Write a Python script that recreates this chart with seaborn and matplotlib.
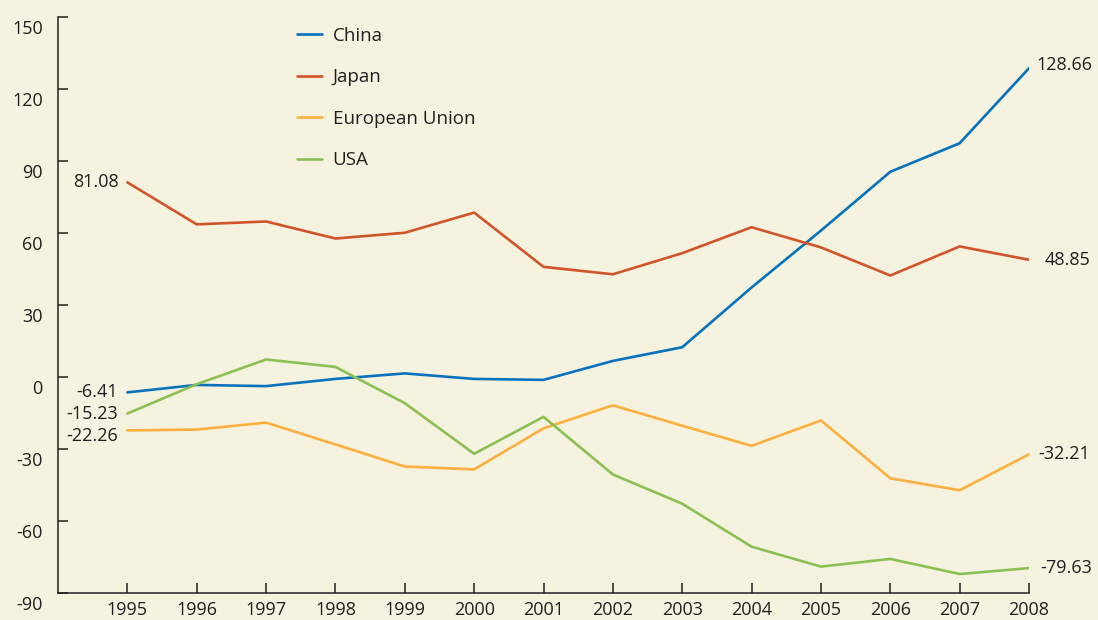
import pandas as pd
import matplotlib.pyplot as plt
import matplotlib.transforms as mtransforms
from matplotlib.lines import Line2D
import seaborn as sns

# data
years = list(range(1995, 2009))
china = [-6.41, -3.3, -3.8, -0.8, 1.5, -0.8, -1.2, 6.7, 12.4, 37.3, 61.0, 85.5, 97.4, 128.66]
japan = [81.08, 63.6, 64.8, 57.7, 60.1, 68.5, 45.9, 42.8, 51.6, 62.4, 54.0, 42.3, 54.4, 48.85]
eu = [-22.26, -21.9, -19.0, -28.1, -37.3, -38.5, -21.4, -11.8, -20.3, -28.7, -18.1, -42.2, -47.2, -32.21]
usa = [-15.23, -3.0, 7.3, 4.2, -10.9, -32.0, -16.6, -40.6, -52.8, -70.7, -79.0, -75.8, -82.1, -79.63]
series_names = ['China', 'Japan', 'European Union', 'USA']
y_ticks = [-90, -60, -30, 0, 30, 60, 90, 120, 150]

colors = {'China': '#0872bc', 'Japan': '#d1552b', 'European Union': '#fbb040', 'USA': '#8cc152'}
bg = '#f5f2df'
ink = '#231f20'

df = pd.DataFrame({'Year': years * 4,
                   'Value': china + japan + eu + usa,
                   'Region': sum([[n] * len(years) for n in series_names], [])})

sns.set_style('white')
plt.rcParams['font.family'] = ['Open Sans', 'DejaVu Sans']
plt.rcParams['axes.unicode_minus'] = False

fig = plt.figure(figsize=(10.98, 6.2), dpi=100, facecolor=bg)
ax = fig.add_axes([58 / 1098, 1 - 593 / 620, (1029 - 58) / 1098, (593 - 17) / 620])
ax.set_facecolor(bg)

sns.lineplot(data=df, x='Year', y='Value', hue='Region', hue_order=series_names,
             palette=colors, linewidth=1.9, ax=ax, legend=False)

ax.set_xlim(1994, 2008)
ax.set_ylim(-90, 150)
ax.set_xticks(years)
ax.set_yticks(y_ticks)
ax.set_xlabel('')
ax.set_ylabel('')
for s in ['top', 'right']:
    ax.spines[s].set_visible(False)
for s in ['left', 'bottom']:
    ax.spines[s].set_color(ink)
    ax.spines[s].set_linewidth(1.1)
ax.tick_params(axis='both', direction='in', length=7, width=1.1, color=ink,
               labelcolor=ink, labelsize=13, bottom=True, left=True)
ax.tick_params(axis='y', pad=11)
ax.tick_params(axis='x', pad=6)

# y tick labels sit a little below their ticks in the original
offset = mtransforms.ScaledTranslation(0, -0.1, fig.dpi_scale_trans)
for lab in ax.get_yticklabels():
    lab.set_transform(lab.get_transform() + offset)

# end-point value labels
first = {'China': -6.41, 'Japan': 81.08, 'European Union': -22.26, 'USA': -15.23}
last = {'China': 128.66, 'Japan': 48.85, 'European Union': -32.21, 'USA': -79.63}
left_dy = {'China': 0, 'Japan': 0, 'European Union': -2.5, 'USA': 0}
right_dx = {'China': 0.1, 'Japan': 0.22, 'European Union': 0.14, 'USA': 0.16}
right_dy = {'China': 1.5, 'Japan': 0, 'European Union': 0, 'USA': 0}
for n in series_names:
    ax.text(1995 - 0.13, first[n] + left_dy[n], f'{first[n]:.2f}', ha='right', va='center',
            fontsize=13, color=ink, clip_on=False)
    ax.text(2008 + right_dx[n], last[n] + right_dy[n], f'{last[n]:.2f}', ha='left', va='center',
            fontsize=13, color=ink, clip_on=False)

handles = [Line2D([0], [0], color=colors[n], linewidth=1.9) for n in series_names]
fig.legend(handles, series_names, loc='upper left', bbox_to_anchor=(297 / 1098, 1 - 27 / 620),
           frameon=False, fontsize=13.5, handlelength=1.35, handletextpad=0.55,
           labelspacing=1.25, borderpad=0, borderaxespad=0, labelcolor=ink)

fig.savefig('out.png', dpi=100, facecolor=bg)
